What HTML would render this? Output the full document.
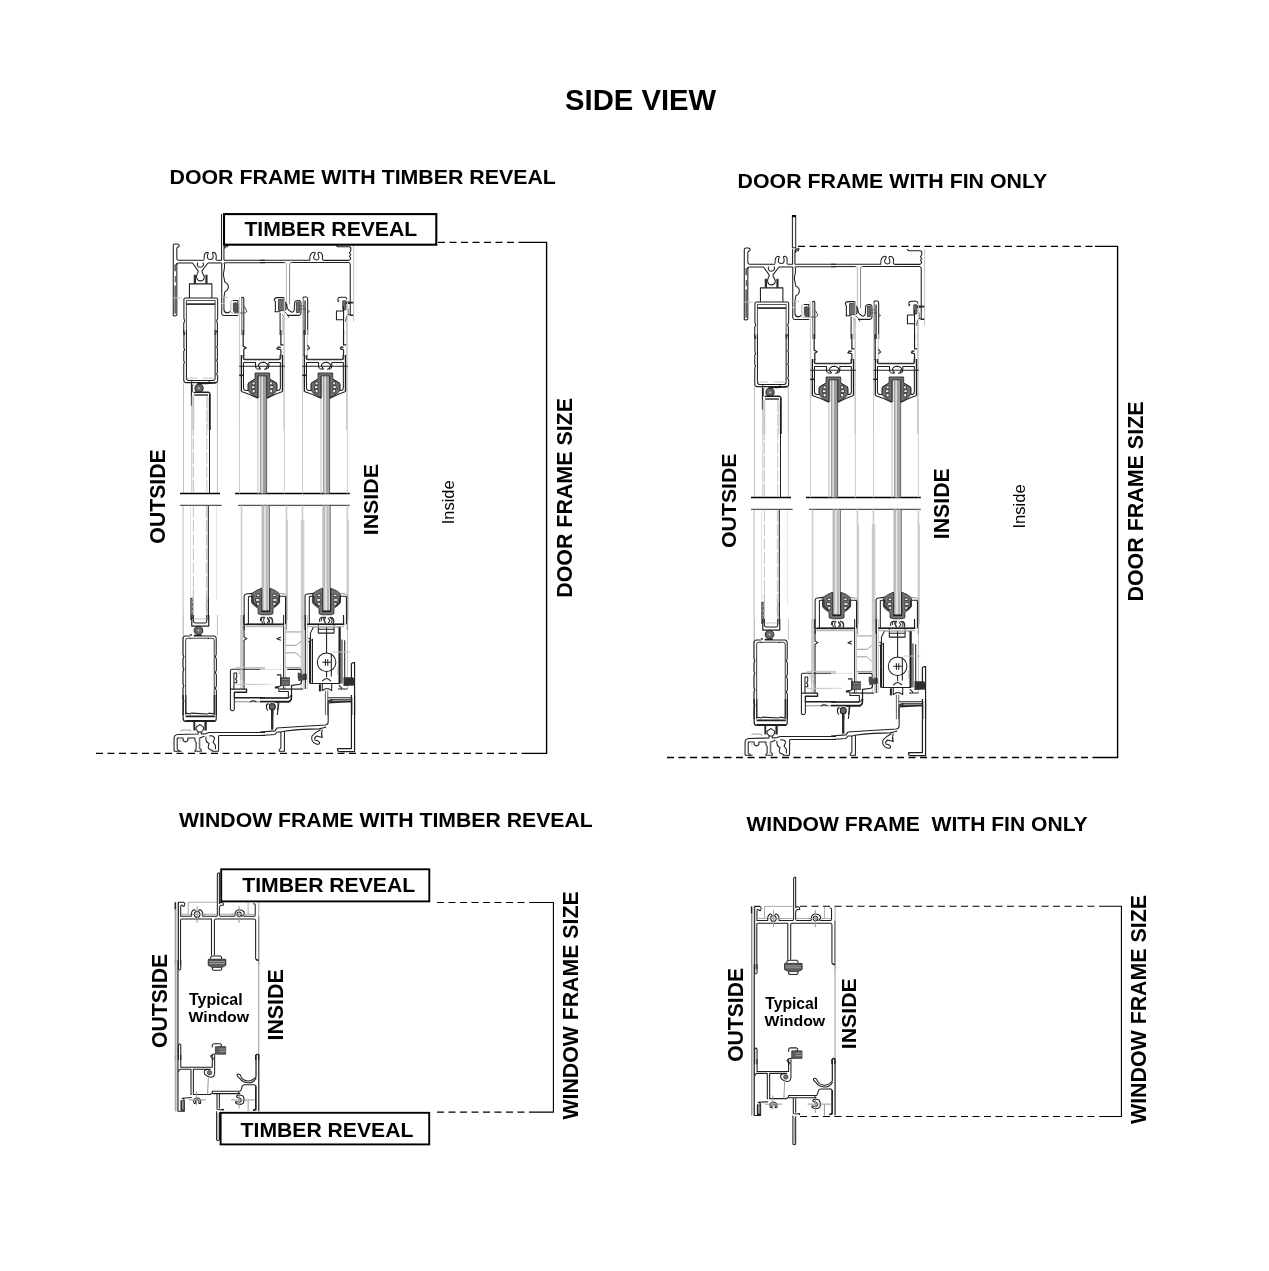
<!DOCTYPE html>
<html><head><meta charset="utf-8"><title>Side View</title>
<style>html,body{margin:0;padding:0;background:#fff;width:1269px;height:1271px;overflow:hidden}
#wrap{will-change:transform;width:1269px;height:1271px}svg{display:block}

.k{fill:none;stroke:#1e1e1e;stroke-width:1.05;vector-effect:non-scaling-stroke;stroke-linejoin:round}
.k2{fill:none;stroke:#111;stroke-width:1.4;vector-effect:non-scaling-stroke}
.d{fill:none;stroke:#555;stroke-width:1;vector-effect:non-scaling-stroke}
.g{fill:none;stroke:#c4c4c4;stroke-width:1;vector-effect:non-scaling-stroke}
.gl{fill:none;stroke:#dedede;stroke-width:1;vector-effect:non-scaling-stroke}
.f{fill:#6e6e6e;stroke:#333;stroke-width:0.8;vector-effect:non-scaling-stroke}
.fk{fill:#2a2a2a;stroke:none}
.dash{fill:none;stroke:#000;stroke-width:1.3;stroke-dasharray:7 4.5}
.dim{fill:none;stroke:#000;stroke-width:1.4}
.box{fill:#fff;stroke:#000;stroke-width:2.2}
</style>
</head><body><div id="wrap">
<svg width="1269" height="1271" viewBox="0 0 1269 1271">
<rect width="1269" height="1271" fill="#fff"/>
<defs>
<g id="door">
<g>
<!-- upper long lines -->
<path class="g" d="M183.5,383 V493 M217.4,383 V493"/>
<path class="g" d="M191.8,394 V493"/>
<path class="g" d="M193.4,396 V493 M206.8,396 V493" style="stroke-dasharray:12 2"/>
<path class="k" d="M209.5,394 V493"/>
<!-- break lines -->
<path class="dim" d="M180,493.5 H220 M235,493.5 H349.8" style="stroke-width:1.5"/>
<path class="dim" d="M180,505.4 H221.7 M238.1,505.4 H349.8" style="stroke:#555;stroke-width:1.2"/>
<!-- lower long lines -->
<path class="g" d="M183.1,506 V715" style="stroke:#bbb"/><path class="g" d="M190.6,506 V600 M216.6,506 V600" style="stroke:#e4e4e4"/>
<path class="g" d="M193.4,506 V600 M206.4,506 V600" style="stroke-dasharray:12 2"/>
<path class="k" d="M208.3,506 V598"/>

</g>
<g transform="translate(165,235) scale(0.078802)">
<!-- left fin -->
<path class="k" d="M105,1020 V130 Q105,115 125,115 H160 Q182,118 180,140 L172,152 H162 Q150,158 150,175 V300 Q152,320 175,320 H495"/>
<path class="k" d="M150,355 V1015 Q140,1030 118,1028 Q105,1025 105,1015"/>
<path class="d" d="M130,370 V460 M135,520 V600 M130,640 V1000" style="stroke-width:1.8;stroke:#666"/>
<path class="g" d="M105,800 H215"/>
<!-- screw boss top -->
<path class="k" d="M497,312 Q490,228 533,220 Q553,222 548,235 Q536,245 538,288 Q545,312 575,312 Q606,312 610,288 Q612,245 603,235 Q598,222 618,220 Q660,228 647,312 Q650,320 668,320 H720"/>
<!-- upstand wall -->
<path class="k" d="M718,130 V320"/>
<path class="k" d="M748,320 V160 Q748,128 775,125 H800 L790,150 H770 Q760,152 758,170"/>
<!-- top wall inner -->
<path class="k" d="M168,355 Q150,358 150,380"/>
<path class="k" d="M168,355 H350 L420,455 Q425,470 410,490"/>
<path class="k" d="M545,355 L470,455 Q465,470 480,490"/>
<path class="k" d="M545,355 H718"/>
<path class="k" d="M418,352 Q405,365 410,385 Q420,410 450,410 Q482,408 488,382 Q492,362 480,352"/>
<!-- roller -->
<path class="k" d="M400,540 Q410,580 450,582 Q490,580 500,540"/>
<path class="k" d="M410,490 Q400,520 400,540 M480,490 Q500,520 500,540"/>
<rect class="fk" x="365" y="505" width="28" height="112"/>
<rect class="fk" x="512" y="505" width="28" height="112"/>
<path class="k" d="M310,800 V620 H595 V800"/>
<!-- leaf top -->
<path class="k" d="M238,1269 V1120 L250,1090 L240,1060 V815 Q240,800 258,800 H650 Q668,800 668,815 V1060 L655,1090 L665,1120 V1269"/>
<path class="k" d="M272,1269 V830 H636 V1269" style="stroke:#555"/>
<path class="k" d="M272,877 H636" style="stroke-width:1.6"/>
<!-- wavy wall -->
<path class="k" d="M720,355 V1000 Q722,1022 750,1022 H930"/>
<path class="k" d="M748,355 Q765,380 745,470 L740,500 Q752,560 760,600 Q800,610 805,660 Q800,700 760,720 L748,790 V950 Q752,985 790,988 Q822,985 830,965"/>
<path class="g" d="M718,790 H800 M710,870 H760"/>
<!-- sash 1 stile top + gasket -->
<path class="g" d="M945,790 V1269"/>
<path class="k" d="M970,800 Q975,790 985,790 H990 Q1000,795 1000,810 V1269"/>
<path class="k" d="M975,800 V1269" style="stroke:#666"/>
<path class="g" d="M850,830 Q832,835 835,860 V975 Q838,992 860,992 H925" style="stroke:#aaa"/>
<path class="k" d="M925,992 V830 H860"/>
<path class="f" d="M868,865 L900,858 L925,878 V978 L885,985 L868,960 Z" style="fill:#555"/>
<path class="d" d="M1000,910 H1010 L1040,970 L1010,990 M930,990 H1010"/>
<path class="k" d="M748,320 H1269"/>
<path class="k" d="M790,352 H1269"/>
<path class="k" d="M748,355 Q760,352 790,352"/>

</g>
<g transform="translate(165,330) scale(0.078802)">
<!-- leaf top box (continued) -->
<path class="k" d="M238,0 V20 L250,40 L240,70 V230 L250,250 L238,270 V390 L248,410 L238,430 V640 Q240,668 270,668 H640 Q668,665 668,640 V580 L655,560 L665,540 V400 L655,385 L665,370 V230 L655,215 L665,200 V40 L655,20 L665,0"/>
<path class="k" d="M272,0 V610 Q272,640 300,642 H610 Q636,640 636,610 V0"/>
<path class="g" d="M275,610 H410 M480,610 H630"/>
<path class="k" d="M335,645 L345,655 M555,645 L565,655"/>
<!-- roller + panel top -->
<path class="k" d="M335,668 V960 M360,690 Q340,700 345,730 V790"/>
<circle cx="432" cy="740" r="52" fill="#666" stroke="#222" stroke-width="1" vector-effect="non-scaling-stroke"/>
<circle cx="432" cy="740" r="10" fill="#fff"/>
<path class="k" d="M410,678 H520 L650,668" style="stroke-width:1.6"/>
<path class="k" d="M365,800 Q370,790 385,790 H555 Q572,795 572,815 V1269" style="stroke-width:1.3"/>
<path class="k" d="M370,825 H545" style="stroke-width:1.6;stroke:#444"/>
<path class="g" d="M345,840 V1269 M365,850 V1269 M545,850 V1269" />
<path class="g" d="M235,668 V1269 M665,680 V1269"/>
<!-- sash 1 left top rail -->
<path class="g" d="M945,0 V1269"/>
<path class="k" d="M992,0 V205 L1030,225 L1000,245 V330" style="stroke-width:1.2"/>

</g>
<g transform="translate(165,520) scale(0.078802)">
<!-- panel bottom region -->
<path class="k" d="M330,1269 V1000 L350,990" style="stroke-width:1.2"/>
<path class="k" d="M345,1010 L360,1040 L345,1070 L360,1100 L345,1130 L360,1160 L345,1190 L360,1220 L345,1250" style="stroke:#444"/>
<path class="k" d="M550,1269 V990" style="stroke-width:1.2"/>
<path class="k" d="M530,1010 Q520,1080 530,1160" style="stroke:#555"/>
<path class="g" d="M360,870 V1269 M525,940 V1269"/>

</g>
<g transform="translate(165,615) scale(0.078802)">
<!-- screen panel bottom -->
<path class="k" d="M340,0 V140 H555 V0" style="stroke-width:1.2"/>
<path class="k" d="M360,0 V80 Q360,100 385,102 H510 Q530,100 530,80 V0"/>
<path class="g" d="M365,50 H525"/>
<circle cx="425" cy="197" r="55" fill="#6a6a6a" stroke="#222" stroke-width="1" vector-effect="non-scaling-stroke"/>
<circle cx="425" cy="197" r="10" fill="#eee"/>
<path class="k" d="M330,240 V262 M365,262 H470" style="stroke-width:1.6"/>
<!-- leaf bottom box -->
<path class="k" d="M230,1269 V1120 L240,1090 L228,1060 V930 L240,900 L228,870 V720 L240,690 L228,660 V560 L240,530 L228,500 V300 Q230,268 260,266 H320 M470,266 H620 Q648,268 650,300 V500 L640,530 L652,560 V700 L640,730 L652,760 V900 L640,930 L652,960 V1269"/>
<path class="k" d="M262,1269 V320 Q262,296 285,295 H600 Q625,296 625,320 V1269" style="stroke:#444"/>
<path class="k" d="M315,292 L325,305 M545,292 L555,305"/>
<path class="g" d="M235,0 V270 M665,0 V270"/>
<!-- sash 1 bottom rail (left part) -->
<path class="g" d="M962,0 V940 M985,0 V940" style="stroke:#bdbdbd"/>
<path class="k" d="M1000,0 V120 H1269" style="stroke-width:1.2"/>
<path class="g" d="M1000,140 H1269" style="stroke:#aaa"/>
<path class="k" d="M1003,140 V280 L1040,300 L1003,320 V940"/>
<path class="k" d="M830,1200 V705 Q832,688 850,688 H1269"/>
<path class="g" d="M900,665 H1269 M900,880 H1269"/>
<path class="k" d="M875,940 V735 H910 V790 L895,810 L910,830 V860 H880"/>
<path class="k" d="M830,940 H1035 V980 H880 V1050 H1269" style="stroke-width:1.3"/>
<path class="g" d="M880,1100 H1269" style="stroke:#aaa;stroke-width:1.4"/>
<path class="k" d="M880,1050 V1190 Q875,1215 855,1215 Q832,1212 830,1195"/>
<path class="k" d="M1080,1105 Q1110,1075 1160,1100" />
<path class="gl" d="M930,700 L1000,860" style="stroke:#bbb"/>

</g>
<g transform="translate(165,695) scale(0.078802)">
<!-- leaf bottom -->
<path class="k" d="M230,0 V300 Q232,332 258,334 H630 Q650,330 650,300 V0" style="stroke-width:1.2"/>
<path class="k" d="M265,0 V230 L320,240 L335,230 L545,240 L560,230 L625,240 V0"/>
<path class="k" d="M262,270 H632 M262,330 H632" style="stroke-width:1.8"/>
<path class="fk" d="M360,340 h24 v110 h-24z M500,340 h30 v110 h-30z"/>
<path class="k" d="M395,440 Q385,400 420,390 L440,375 L470,392 Q505,410 480,450 L465,470 H425 Z"/>
<path class="g" d="M195,460 Q200,445 220,445 H320 L330,465" style="stroke:#999"/>
<path class="k" d="M198,335 h2" />
<!-- sill track -->
<path class="k" d="M115,715 V545 Q118,505 160,500 L420,495 V470"/>
<path class="k" d="M460,470 V495 L520,490 L560,475 H1269"/>
<path class="k" d="M680,715 V520 Q682,515 700,515 H1269"/>
<path class="k" d="M155,690 V545 H230 V580 Q260,610 290,580 V545 H380 V580 L395,600 V690 L380,700 V715 H460 V690 L440,680 V545 Q470,540 500,520"/>
<path class="k" d="M155,690 L185,710 M115,715 H210"/>
<path class="k" d="M520,530 Q510,600 560,615 L550,650 Q540,690 600,700 V715 H680" />
<path class="k" d="M560,520 Q620,510 630,550 L610,600 L640,640 L640,690" />
<path class="g" d="M200,540 V590 M430,540 V715"/>

</g>
<g transform="translate(260,235) scale(0.078802)">
<!-- top wall outer -->
<path class="k" d="M0,320 H632 C628,260 650,215 690,218 C720,222 680,250 680,290 Q690,318 720,316 Q750,312 748,285 C742,250 720,222 755,218 C790,218 800,270 790,300 Q788,322 820,322 H1130 Q1150,315 1150,290 L1135,270 L1152,250 L1135,225 L1152,200 V160 Q1148,150 1130,150 H985 L965,128"/>
<!-- top wall inner + mullion -->
<path class="k" d="M0,350 H315"/><path class="k" d="M315,350 Q335,355 335,380 V870" style="stroke:#bbb"/>
<path class="k" d="M375,880 V380 Q375,352 400,350" style="stroke:#888"/><path class="k" d="M400,350 H1125 Q1145,355 1145,380 V1005 Q1150,1025 1185,1015"/>
<path class="fk" d="M15,345 h35 v8 h-35z M815,345 h35 v8 h-35z"/>
<path class="g" d="M1188,125 V1100"/>
<!-- interlock area -->
<path class="k" d="M180,830 Q185,795 215,795 H300 Q315,800 310,825 M180,830 L195,845 V960 L190,975 H260"/>
<path class="f" d="M235,820 H300 L340,880 L330,950 L300,960 H235 Z"/>
<path class="d" d="M300,960 L340,1000 L370,1050 M280,1000 Q330,1060 300,1100"/>
<path class="k" d="M335,870 Q345,950 375,960 Q390,980 410,980 Q430,975 435,950 L440,850 Q450,830 480,830 H500 Q520,840 520,860 V990 Q515,1020 490,1020 H345"/>
<path class="f" d="M462,850 H500 V985 H462 Z"/>
<path class="k" d="M500,900 H560 M500,940 H580" style="stroke:#444"/>
<!-- sash 2 left stile -->
<path class="k" d="M545,1269 V800 Q548,788 560,788 H590 Q605,790 605,810 V1269"/>
<path class="k" d="M572,1269 V830" style="stroke:#333;stroke-width:1.4"/>
<path class="d" d="M600,950 L630,970 L605,990"/>
<!-- sash 1 right stile -->
<path class="k" d="M255,1269 V990"/>
<path class="g" d="M288,1269 V1000 M300,1269 V1020"/>
<!-- right: sash 2 top right gasket -->
<path class="k" d="M985,820 Q990,790 1020,790 H1085 Q1100,795 1100,820"/>
<path class="k" d="M985,825 L1000,835 L985,850"/>
<path class="f" d="M1050,835 H1090 V950 H1050 Z"/>
<path class="fk" d="M1090,840 L1180,848 L1190,865 L1090,880 Z"/>
<path class="k" d="M970,965 H1060 V1075 H970 Z"/>
<path class="k" d="M1060,1269 V900"/>
<path class="g" d="M1100,1269 V1060"/>
<path class="k" d="M1100,900 Q1140,960 1100,1040 L1080,1100" style="stroke:#555"/>
<path class="k" d="M1110,1000 Q1150,1030 1185,1015"/>

</g>
<g transform="translate(260,330) scale(0.078802)">
<!-- sash 1 right top rail -->
<path class="k" d="M265,0 V190 H300 M265,250 L215,240 L230,215 L265,220 M265,250 V330" style="stroke-width:1.2"/>
<path class="g" d="M305,0 V1269"/>
<!-- sash 2 left top rail -->
<path class="k" d="M560,0 V330" style="stroke-width:1.3"/>
<path class="g" d="M540,0 V1269 M600,0 V360"/>
<path class="k" d="M600,190 L630,230 L600,250" />
<!-- sash 2 right -->
<path class="k" d="M1060,0 V190 H1100 M1060,250 L1020,240 L1030,215 L1060,220 M1060,250 V330" style="stroke-width:1.2"/>
<path class="g" d="M1100,0 V1269"/>

</g>
<g transform="translate(260,520) scale(0.078802)">
<path class="g" d="M350,0 V1269 M1120,0 V1269"/>
<path class="g" d="M525,0 V1269 M555,0 V1269" style="stroke:#c0c0c0"/>

</g>
<g transform="translate(260,615) scale(0.078802)">
<!-- sash 1 right bottom -->
<path class="k" d="M300,0 V940"/>
<path class="g" d="M325,0 V940"/>
<path class="k" d="M0,120 H290" style="stroke-width:1.2"/>
<path class="g" d="M0,140 H270" style="stroke:#aaa"/>
<path class="k" d="M30,30 Q0,60 40,110 M90,30 Q140,60 110,110 M130,30 Q170,60 150,110" style="stroke:#333"/>
<path class="k" d="M265,280 L215,300 L265,320"/>
<!-- interlock sill piece -->
<path class="g" d="M330,215 H525 M330,385 H460 L525,330 M330,480 H460 L525,545 M330,665 H525" style="stroke:#999"/>
<path class="g" d="M525,0 V940 M555,0 V940"/>
<path class="gl" d="M0,690 H280 M0,880 H140"/>
<path class="k" d="M345,690 H510 Q525,695 525,720 V860 Q520,880 490,882 L400,892 L400,1060 Q395,1090 360,1095 H0" style="stroke-width:1.2"/>
<path class="fk" d="M480,730 Q470,790 490,840 L600,820 L595,750 Z" style="fill:#4a4a4a"/>
<path class="fk" d="M255,790 H380 V900 H255 Z" style="fill:#4a4a4a"/>
<path class="gl" d="M265,820 H375 M265,850 H375 M265,875 H375" style="stroke:#888"/>
<path class="k" d="M215,760 H265 V900 L195,915 V925 H240 V970 H360 V1050 H0"/>
<path class="k" d="M250,940 H545" style="stroke-width:1.2"/>
<path class="k" d="M80,1160 Q90,1120 110,1130 M240,1110 Q230,1180 220,1269"/>
<rect x="120" y="1130" width="70" height="70" rx="18" fill="#666" stroke="#222" stroke-width="1" vector-effect="non-scaling-stroke"/>
<rect x="140" y="1195" width="28" height="80" fill="#222"/>
<!-- sash 2 bottom rail + roller housing -->
<path class="k" d="M575,0 V940"/>
<path class="g" d="M600,0 V940"/>
<path class="k" d="M610,120 H1060 V0" style="stroke-width:1.2"/>
<path class="k" d="M760,90 Q740,40 790,30 M830,100 Q800,60 810,30 M880,30 Q940,60 900,100 M910,30 Q950,60 930,110" style="stroke:#333"/>
<path class="k" d="M640,870 V230 L680,150 H1000 L1010,170 V870 H640"/>
<path class="k" d="M740,120 V230 H940 V120 M740,180 H940"/>
<path class="k" d="M665,870 V300 M630,330 V870" style="stroke-width:1.2"/>
<path class="k" d="M615,290 L650,320 L615,340"/>
<path class="k" d="M845,150 V485 M845,715 V790"/>
<circle cx="845" cy="600" r="118" class="k"/>
<path class="k" d="M790,600 H900 M830,560 V645 M860,560 V645" />
<path class="k" d="M905,490 V780"/>
<path class="k" d="M790,840 Q845,770 900,840 M790,870 V960 L830,935 H870 L910,960 V870"/>
<path class="k" d="M760,880 V970" style="stroke-width:2"/>
<path class="k" d="M1010,150 V870" style="stroke-width:2.2"/>
<path class="k" d="M1040,310 V870 M1075,320 V870"/>
<path class="g" d="M920,470 H1140 M985,660 V760 M1110,0 V940"/>
<path class="k" d="M1160,860 V620 Q1170,600 1200,605 V1269" style="stroke-width:1.2"/>
<path class="fk" d="M1060,790 H1180 L1200,820 V895 L1060,900 Z" style="fill:#2e2e2e"/>
<path class="k" d="M990,940 H1110 M1000,890 L1040,930"/>
<path class="k" d="M830,960 V1269 M860,960 V1269" style="stroke:#666"/>
<path class="k" d="M860,1050 H1165 V1269 M875,1100 H1165 M910,1070 V1100" style="stroke-width:1.1"/>

</g>
<g transform="translate(260,695) scale(0.078802)">
<!-- sash1 rail bottom -->
<path class="k" d="M0,40 H350 Q390,30 395,0"/>
<path class="k" d="M0,85 H165 L215,95 L240,90 H370 Q400,70 402,0" style="stroke-width:1.2"/>
<path class="g" d="M0,95 H160" style="stroke:#999"/>
<path class="k" d="M95,110 Q65,150 100,200 M230,90 Q235,150 220,200" />
<rect x="120" y="112" width="70" height="70" rx="18" fill="#666" stroke="#222" stroke-width="1" vector-effect="non-scaling-stroke"/>
<path class="fk" d="M140,180 h30 v260 h-30z"/>
<!-- sill sloped wall -->
<path class="k" d="M0,470 Q100,462 190,455 L215,420 Q500,395 830,380 Q868,375 865,340 V95"/>
<path class="k" d="M0,515 Q100,508 190,500 L215,470 H265 L300,460 Q550,430 750,430 Q800,420 840,405"/>
<path class="k" d="M265,470 V670 Q262,680 245,690 V715 H310 V460"/>
<path class="k" d="M770,440 Q700,470 660,520 Q640,600 720,625 Q760,630 755,600 Q730,570 700,575 Q680,545 720,520 L790,540 Q770,490 790,440"/>
<path class="k" d="M865,90 Q870,62 900,62 H1160 V0" style="stroke-width:1.2"/>
<path class="k" d="M870,100 L1160,82 V680 H985 V705 Q990,718 1010,718 H1200 V0" style="stroke-width:1.2"/>
<path class="k" d="M905,55 V95"/>

</g>
<g transform="translate(293,355) scale(0.047281)">
<!-- sash top rail; origin (293,355) scale 21.15 (sash 2) -->
<path class="k" d="M285,0 V70 Q290,95 320,95 H1030 Q1065,95 1065,70 V0" style="stroke-width:1.7;stroke:#333"/>
<path class="k" d="M240,0 V770 M1110,0 V770" style="stroke-width:1.3"/>
<path class="g" d="M200,-1200 V2929 M1150,-1200 V2929" style="stroke:#ccc"/>
<path class="k" d="M285,160 H540 V240 Q545,270 560,280 M820,160 V240 Q815,270 800,280"/>
<path class="k" d="M820,160 H1065 V700 Q1060,745 1020,750 H990 V610 Q985,585 950,575 L840,510"/>
<path class="k" d="M285,160 V700 Q290,745 330,750 H385 V610 Q390,585 420,575 L530,510"/>
<path class="k" d="M600,230 Q610,160 700,155 Q790,160 800,230 M560,290 L640,300 M720,300 L800,290 M600,230 L650,300 M800,230 L750,300"/>
<path class="k" d="M195,240 H1160" style="stroke:#222"/>
<path class="k" d="M195,430 H290" style="stroke-width:1.5"/>
<!-- glass -->
<path class="g" d="M592,440 V2929" style="stroke:#c8c8c8;stroke-width:1.2"/>
<rect x="634" y="440" width="36" height="2489" fill="#9c9c9c"/>
<rect x="670" y="440" width="28" height="2489" fill="#dcdcdc"/>
<rect x="698" y="440" width="64" height="2489" fill="#9c9c9c"/>
<rect x="762" y="440" width="23" height="2489" fill="#6a6a6a"/>
<rect x="600" y="440" width="34" height="470" fill="#dedede"/>
<path class="k" d="M590,440 V910" style="stroke-width:1.1"/>
<!-- gasket -->
<path class="f" d="M530,380 H840 V510 L950,575 Q985,590 990,620 V750 L940,810 L780,910 V440 H590 V910 L430,810 L385,750 V620 Q390,590 420,575 L530,510 Z" style="fill:#6f6f6f;stroke:#222"/>
<path d="M470,570 h60 v60 h-60z M455,650 h70 v60 h-70z M470,730 h60 v70 h-60z M840,570 h60 v60 h-60z M845,650 h70 v60 h-70z M840,730 h60 v70 h-60z" fill="#f2f2f2" stroke="#222" stroke-width="0.7" vector-effect="non-scaling-stroke"/>
<path class="k" d="M240,770 Q400,820 590,915 M1110,770 Q960,820 780,915"/>

</g>
<g transform="translate(230.0,355) scale(0.047281)">
<!-- sash top rail; origin (293,355) scale 21.15 (sash 2) -->
<path class="k" d="M285,0 V70 Q290,95 320,95 H1030 Q1065,95 1065,70 V0" style="stroke-width:1.7;stroke:#333"/>
<path class="k" d="M240,0 V770 M1110,0 V770" style="stroke-width:1.3"/>
<path class="g" d="M200,-1200 V2929 M1150,-1200 V2929" style="stroke:#ccc"/>
<path class="k" d="M285,160 H540 V240 Q545,270 560,280 M820,160 V240 Q815,270 800,280"/>
<path class="k" d="M820,160 H1065 V700 Q1060,745 1020,750 H990 V610 Q985,585 950,575 L840,510"/>
<path class="k" d="M285,160 V700 Q290,745 330,750 H385 V610 Q390,585 420,575 L530,510"/>
<path class="k" d="M600,230 Q610,160 700,155 Q790,160 800,230 M560,290 L640,300 M720,300 L800,290 M600,230 L650,300 M800,230 L750,300"/>
<path class="k" d="M195,240 H1160" style="stroke:#222"/>
<path class="k" d="M195,430 H290" style="stroke-width:1.5"/>
<!-- glass -->
<path class="g" d="M592,440 V2929" style="stroke:#c8c8c8;stroke-width:1.2"/>
<rect x="634" y="440" width="36" height="2489" fill="#9c9c9c"/>
<rect x="670" y="440" width="28" height="2489" fill="#dcdcdc"/>
<rect x="698" y="440" width="64" height="2489" fill="#9c9c9c"/>
<rect x="762" y="440" width="23" height="2489" fill="#6a6a6a"/>
<rect x="600" y="440" width="34" height="470" fill="#dedede"/>
<path class="k" d="M590,440 V910" style="stroke-width:1.1"/>
<!-- gasket -->
<path class="f" d="M530,380 H840 V510 L950,575 Q985,590 990,620 V750 L940,810 L780,910 V440 H590 V910 L430,810 L385,750 V620 Q390,590 420,575 L530,510 Z" style="fill:#6f6f6f;stroke:#222"/>
<path d="M470,570 h60 v60 h-60z M455,650 h70 v60 h-70z M470,730 h60 v70 h-60z M840,570 h60 v60 h-60z M845,650 h70 v60 h-70z M840,730 h60 v70 h-60z" fill="#f2f2f2" stroke="#222" stroke-width="0.7" vector-effect="non-scaling-stroke"/>
<path class="k" d="M240,770 Q400,820 590,915 M1110,770 Q960,820 780,915"/>

</g>
<g transform="translate(293,580) scale(0.047281)">
<!-- sash bottom rail; origin (293,580) scale 21.15 (sash 2) -->
<path class="g" d="M200,-1576 V2000 M1150,-1576 V1058" style="stroke:#ccc;stroke-width:1.6"/>
<!-- glass -->
<rect x="622" y="-1576" width="62" height="2238" fill="#bcbcbc"/>
<rect x="705" y="-1576" width="53" height="2238" fill="#bcbcbc"/>
<path class="k" d="M785,-1576 V662" style="stroke:#555;stroke-width:1.1"/>
<rect x="600" y="175" width="200" height="487" fill="#e2e2e2"/>
<rect x="630" y="175" width="35" height="487" fill="#a8a8a8"/>
<rect x="720" y="175" width="45" height="487" fill="#b0b0b0"/>
<path class="k" d="M605,175 V662 M795,175 V662" style="stroke-width:1.1"/>
<!-- gasket -->
<path class="f" d="M420,285 Q500,215 625,175 V662 H800 V175 Q930,215 1000,285 L1005,350 V470 Q985,520 920,560 L865,600 V715 L800,735 H620 L550,715 V600 L480,550 Q420,510 410,470 V350 Z" style="fill:#717171;stroke:#222"/>
<path d="M515,300 h70 v50 h-70z M495,395 h90 v55 h-90z M515,480 h70 v55 h-70z M860,300 h70 v50 h-70z M860,395 h90 v55 h-90z M860,480 h70 v55 h-70z" fill="#f2f2f2" stroke="#222" stroke-width="0.7" vector-effect="non-scaling-stroke"/>
<path class="k" d="M620,662 H800" style="stroke-width:1.6"/>
<!-- rail -->
<path class="k" d="M255,1058 V330 Q262,300 300,295 L430,283"/>
<path class="g" d="M1150,1058 V330 Q1140,300 1100,295 L990,283" style="stroke:#999"/>
<path class="k" d="M345,935 V360 Q350,345 380,345 H440 V470 L540,560"/>
<path class="k" d="M1130,935 V360 Q1125,345 1095,345 H990 V470 L900,560"/>
<path class="k" d="M300,935 H1085" style="stroke-width:1.6"/>
<path class="g" d="M300,985 H1085" style="stroke:#bbb;stroke-width:1.4"/>
<path class="k" d="M600,870 Q590,800 630,790 L690,790 Q640,840 700,940 M780,790 Q860,790 860,870 Q855,920 840,940 M740,800 L780,860 L740,920" style="stroke:#333"/>

</g>
<g transform="translate(232.1,580) scale(0.047281)">
<!-- sash bottom rail; origin (293,580) scale 21.15 (sash 2) -->
<path class="g" d="M200,-1576 V2000 M1150,-1576 V1058" style="stroke:#ccc;stroke-width:1.6"/>
<!-- glass -->
<rect x="622" y="-1576" width="62" height="2238" fill="#bcbcbc"/>
<rect x="705" y="-1576" width="53" height="2238" fill="#bcbcbc"/>
<path class="k" d="M785,-1576 V662" style="stroke:#555;stroke-width:1.1"/>
<rect x="600" y="175" width="200" height="487" fill="#e2e2e2"/>
<rect x="630" y="175" width="35" height="487" fill="#a8a8a8"/>
<rect x="720" y="175" width="45" height="487" fill="#b0b0b0"/>
<path class="k" d="M605,175 V662 M795,175 V662" style="stroke-width:1.1"/>
<!-- gasket -->
<path class="f" d="M420,285 Q500,215 625,175 V662 H800 V175 Q930,215 1000,285 L1005,350 V470 Q985,520 920,560 L865,600 V715 L800,735 H620 L550,715 V600 L480,550 Q420,510 410,470 V350 Z" style="fill:#717171;stroke:#222"/>
<path d="M515,300 h70 v50 h-70z M495,395 h90 v55 h-90z M515,480 h70 v55 h-70z M860,300 h70 v50 h-70z M860,395 h90 v55 h-90z M860,480 h70 v55 h-70z" fill="#f2f2f2" stroke="#222" stroke-width="0.7" vector-effect="non-scaling-stroke"/>
<path class="k" d="M620,662 H800" style="stroke-width:1.6"/>
<!-- rail -->
<path class="k" d="M255,1058 V330 Q262,300 300,295 L430,283"/>
<path class="g" d="M1150,1058 V330 Q1140,300 1100,295 L990,283" style="stroke:#999"/>
<path class="k" d="M345,935 V360 Q350,345 380,345 H440 V470 L540,560"/>
<path class="k" d="M1130,935 V360 Q1125,345 1095,345 H990 V470 L900,560"/>
<path class="k" d="M300,935 H1085" style="stroke-width:1.6"/>
<path class="g" d="M300,985 H1085" style="stroke:#bbb;stroke-width:1.4"/>
<path class="k" d="M600,870 Q590,800 630,790 L690,790 Q640,840 700,940 M780,790 Q860,790 860,870 Q855,920 840,940 M740,800 L780,860 L740,920" style="stroke:#333"/>

</g>

</g>
<g id="win">
<g transform="translate(165,1055) scale(0.078802)">
<rect x="132" y="0" width="33" height="715" fill="#d0d0d0"/>
<path class="g" d="M130,0 V715" style="stroke:#999"/>
<path class="k" d="M165,0 V715 H245 V580 Q240,548 215,548 L340,540"/>
<path class="k" d="M200,0 V155 H600 V0"/>
<path class="k" d="M630,0 V230 Q625,282 585,282 Q545,285 510,250 Q490,215 505,195 Q540,180 575,180 H360 V500 H575 L600,480 V460 H955 Q975,430 980,395 Q990,378 1010,378 H1110 Q1145,372 1150,395 V690 Q1140,712 1118,700"/>
<path class="k" d="M175,215 Q168,185 200,180 H330 V500 H340"/>
<circle cx="565" cy="225" r="28" fill="#777" stroke="#333" stroke-width="0.8" vector-effect="non-scaling-stroke"/>
<path class="k" d="M600,490 H950 Q935,480 930,470 M660,490 V685 Q665,695 700,695 L740,690 Q745,700 730,705"/>
<path class="k" d="M690,495 V680"/>
<path class="k" d="M905,520 Q940,495 990,520 Q1015,560 995,610 Q965,640 905,615 Q890,605 900,590 Q940,605 965,590 Q975,560 945,545 Q910,545 905,520"/>
<path class="k" d="M1160,290 Q1120,360 1050,352 Q985,345 950,300 Q935,285 920,270 Q905,245 935,242 Q960,245 965,275 Q985,320 1050,330 Q1110,330 1150,280"/>
<path class="k" d="M1155,0 V280 M1190,0 V715 M1155,390 V700" style="stroke-width:1.2"/>
<path class="f" d="M205,580 H240 V700 H205 Z" style="fill:#999"/>
<path class="k" d="M205,575 V700 H240"/>
<path class="k" d="M368,612 Q350,550 408,542 Q462,550 452,612 Q440,622 428,608 Q440,575 410,568 Q380,575 390,608 Q380,622 368,612"/>
<path class="gl" d="M400,460 V640 M300,570 H520 M940,520 V680 M840,570 H1140 M1055,570 V715 M550,290 L540,500" style="stroke:#999"/>
<path class="k" d="M655,715 V1078 Q672,1092 690,1078 V725"/><path class="g" d="M672,740 V1070" style="stroke:#999"/>
<path class="k" d="M1118,700 Q1125,690 1150,690"/>

</g>
<g transform="translate(165,865) scale(0.078802)">
<rect x="132" y="475" width="37" height="800" fill="#d4d4d4"/>
<path class="g" d="M130,475 V1269" style="stroke:#888"/>
<path class="k" d="M130,472 V560" style="stroke-width:1.3"/>
<!-- left leg + hook + top bar upper line + upstand -->
<path class="k" d="M170,1269 V472 H238 Q254,480 250,510 Q244,530 230,524 Q222,505 212,508 Q199,512 199,532 V651 H336"/>
<path class="k" d="M336,651 Q328,590 363,568 Q388,564 382,586"/>
<path class="k" d="M477,651 Q487,590 448,568 Q425,564 432,586"/>
<circle class="k" cx="408" cy="627" r="36"/>
<path class="k" d="M477,651 H655 Q664,648 664,630 V115 Q668,100 690,100 V490 Q695,472 730,478 Q748,490 740,512 H710 Q690,520 690,545 V630 Q690,650 705,651 H888"/>
<path class="k" d="M888,651 Q880,585 930,568 Q985,565 1005,600 Q1012,630 990,645 Q970,655 965,640"/>
<circle class="k" cx="940" cy="625" r="28"/>
<path class="k" d="M1000,651 H1135 Q1145,648 1145,630 V510 Q1140,486 1120,494"/>
<!-- lower cavity -->
<path class="k" d="M197,1269 V702 Q197,686 213,686 H590 V1150"/>
<path class="k" d="M627,1150 V702 Q629,686 645,686 H1135 Q1150,690 1150,705 V1190 Q1162,1212 1188,1198 V655"/>
<path class="gl" d="M295,625 V472 H660 M1055,480 V625 M200,625 H330 M480,625 H655 M700,625 H890 M1010,625 H1140" style="stroke:#aaa"/>
<path class="gl" d="M408,520 V735 M340,627 H520 M940,520 V735 M840,625 H1000" style="stroke:#999"/>
<path class="g" d="M1190,480 V1269" style="stroke:#aaa"/>
<!-- connector gasket -->
<path class="k" d="M575,1190 Q575,1160 600,1155 H700 Q725,1165 720,1190"/>
<path class="f" d="M550,1195 H770 V1269 H550 Z" style="fill:#5e5e5e"/>
<path class="gl" d="M560,1215 H760 M560,1240 H760" style="stroke:#999"/>

</g>
<g transform="translate(165,960) scale(0.078802)">
<rect x="132" y="0" width="33" height="1269" fill="#d0d0d0"/>
<path class="g" d="M130,0 V1269" style="stroke:#999"/>
<path class="k" d="M165,0 V1269"/>
<path class="k" d="M170,0 V110 Q185,140 200,110 V0"/>
<path class="k" d="M170,1269 V1080 Q185,1050 200,1080 V1269"/>
<path class="f" d="M550,0 H770 V70 L720,95 H600 L550,70 Z" style="fill:#5e5e5e"/>
<path class="gl" d="M560,20 H760 M560,45 H760" style="stroke:#999"/>
<path class="k" d="M600,95 V115 Q605,130 625,130 H700 Q720,128 720,110 V95"/>
<path class="g" d="M1190,0 V1269" style="stroke:#999"/>
<path class="k" d="M1160,0 Q1175,10 1190,0"/>
<path class="k" d="M600,1110 V1080 Q605,1062 625,1062 H700 Q720,1068 718,1090 L690,1105 V1180 L640,1190 Q595,1195 580,1220 Q585,1245 610,1245 V1269"/>
<path class="f" d="M640,1100 H770 V1195 H640 Z" style="fill:#5e5e5e"/>
<path class="gl" d="M690,1130 H770 M690,1160 H770" style="stroke:#999"/>
<path class="k" d="M1150,1269 V1210 Q1165,1190 1188,1200 V1269" style="stroke-width:1.3"/>

</g>

</g>
</defs>
<use href="#door"/>
<use href="#door" transform="translate(571,4)"/>
<use href="#win"/>
<use href="#win" transform="translate(576.3,4.2)"/>
<!-- left door dims -->
<rect class="box" x="224.0" y="214.1" width="212.3" height="30.6" style="stroke-width:2.1"/>
<path class="k" d="M221.5,214 V246"/>
<path class="dash" d="M438,242.4 H524"/>
<path class="dim" d="M524,242.4 H546.6 V753.4 H523"/>
<path class="dash" d="M96,753.4 H523"/>
<!-- right door dims -->
<rect x="792.4" y="215.8" width="3.3" height="32" fill="#f4f4f4" stroke="#222" stroke-width="1"/><rect x="792" y="215" width="4" height="2.2" fill="#000"/>
<path class="dash" d="M798,246.4 H1095"/>
<path class="dim" d="M1095,246.4 H1117.6 V757.5 H1094"/>
<path class="dash" d="M667,757.5 H1094"/>
<!-- left window -->
<rect class="box" x="221.2" y="869.3" width="208.1" height="32.1" style="stroke-width:1.9"/>
<rect class="box" x="220.6" y="1112.8" width="208.6" height="31.6" style="stroke-width:1.9"/>
<path class="dash" d="M437,902.5 H531" style="stroke-width:1.1"/>
<path class="dim" d="M531,902.5 H553.4 V1112.1 H531" style="stroke-width:1.1"/>
<path class="dash" d="M437,1112.1 H531" style="stroke-width:1.1"/>
<!-- right window -->
<path class="dash" d="M800,906.3 H1099.4" style="stroke-width:1.1"/>
<path class="dim" d="M1099.4,906.3 H1121.4 V1116.5 H1099.4" style="stroke-width:1.1"/>
<path class="dash" d="M800,1116.5 H1099.4" style="stroke-width:1.1"/>

<g font-family="Liberation Sans, sans-serif" fill="#000">
<text transform="matrix(0.29240,0,0,0.29577,565.123,109.604)" font-size="100" font-weight="bold" xml:space="preserve">SIDE VIEW</text>
<text transform="matrix(0.21344,0,0,0.20986,169.506,183.790)" font-size="100" font-weight="bold" xml:space="preserve">DOOR FRAME WITH TIMBER REVEAL</text>
<text transform="matrix(0.21337,0,0,0.20423,737.606,187.596)" font-size="100" font-weight="bold" xml:space="preserve">DOOR FRAME WITH FIN ONLY</text>
<text transform="matrix(0.21228,0,0,0.20986,179.100,826.990)" font-size="100" font-weight="bold" xml:space="preserve">WINDOW FRAME WITH TIMBER REVEAL</text>
<text transform="matrix(0.21101,0,0,0.20986,746.400,830.790)" font-size="100" font-weight="bold" xml:space="preserve">WINDOW FRAME  WITH FIN ONLY</text>
<text transform="matrix(0.21169,0,0,0.20286,244.388,236.397)" font-size="100" font-weight="bold" xml:space="preserve">TIMBER REVEAL</text>
<text transform="matrix(0.21193,0,0,0.21000,242.288,892.490)" font-size="100" font-weight="bold" xml:space="preserve">TIMBER REVEAL</text>
<text transform="matrix(0.21169,0,0,0.21143,240.588,1136.789)" font-size="100" font-weight="bold" xml:space="preserve">TIMBER REVEAL</text>
<text transform="matrix(0,-0.21408,0.21972,0,572.380,597.799)" font-size="100" font-weight="bold" xml:space="preserve">DOOR FRAME SIZE</text>
<text transform="matrix(0,-0.21452,0.21972,0,1143.280,601.602)" font-size="100" font-weight="bold" xml:space="preserve">DOOR FRAME SIZE</text>
<text transform="matrix(0,-0.21259,0.21268,0,164.787,543.650)" font-size="100" font-weight="bold" xml:space="preserve">OUTSIDE</text>
<text transform="matrix(0,-0.21259,0.20845,0,735.692,547.950)" font-size="100" font-weight="bold" xml:space="preserve">OUTSIDE</text>
<text transform="matrix(0,-0.21331,0.20986,0,377.890,535.193)" font-size="100" font-weight="bold" xml:space="preserve">INSIDE</text>
<text transform="matrix(0,-0.21269,0.21268,0,948.887,539.189)" font-size="100" font-weight="bold" xml:space="preserve">INSIDE</text>
<text transform="matrix(0,-0.16443,0.15946,0,453.841,524.280)" font-size="100" font-weight="normal" xml:space="preserve">Inside</text>
<text transform="matrix(0,-0.16601,0.16081,0,1024.839,528.594)" font-size="100" font-weight="normal" xml:space="preserve">Inside</text>
<text transform="matrix(0,-0.21292,0.21408,0,578.186,1119.600)" font-size="100" font-weight="bold" xml:space="preserve">WINDOW FRAME SIZE</text>
<text transform="matrix(0,-0.21376,0.21408,0,1146.386,1124.000)" font-size="100" font-weight="bold" xml:space="preserve">WINDOW FRAME SIZE</text>
<text transform="matrix(0,-0.21213,0.21268,0,166.887,1048.049)" font-size="100" font-weight="bold" xml:space="preserve">OUTSIDE</text>
<text transform="matrix(0,-0.21121,0.21690,0,742.783,1061.845)" font-size="100" font-weight="bold" xml:space="preserve">OUTSIDE</text>
<text transform="matrix(0,-0.21362,0.21268,0,282.887,1040.495)" font-size="100" font-weight="bold" xml:space="preserve">INSIDE</text>
<text transform="matrix(0,-0.21269,0.20986,0,855.790,1049.189)" font-size="100" font-weight="bold" xml:space="preserve">INSIDE</text>
<text transform="matrix(0.15897,0,0,0.16438,189.041,1005.000)" font-size="100" font-weight="bold" xml:space="preserve">Typical</text>
<text transform="matrix(0.15864,0,0,0.15405,188.500,1022.446)" font-size="100" font-weight="bold" xml:space="preserve">Window</text>
<text transform="matrix(0.15714,0,0,0.16027,765.243,1009.000)" font-size="100" font-weight="bold" xml:space="preserve">Typical</text>
<text transform="matrix(0.15838,0,0,0.15405,764.600,1026.346)" font-size="100" font-weight="bold" xml:space="preserve">Window</text>
</g>
</svg></div>
</body></html>
